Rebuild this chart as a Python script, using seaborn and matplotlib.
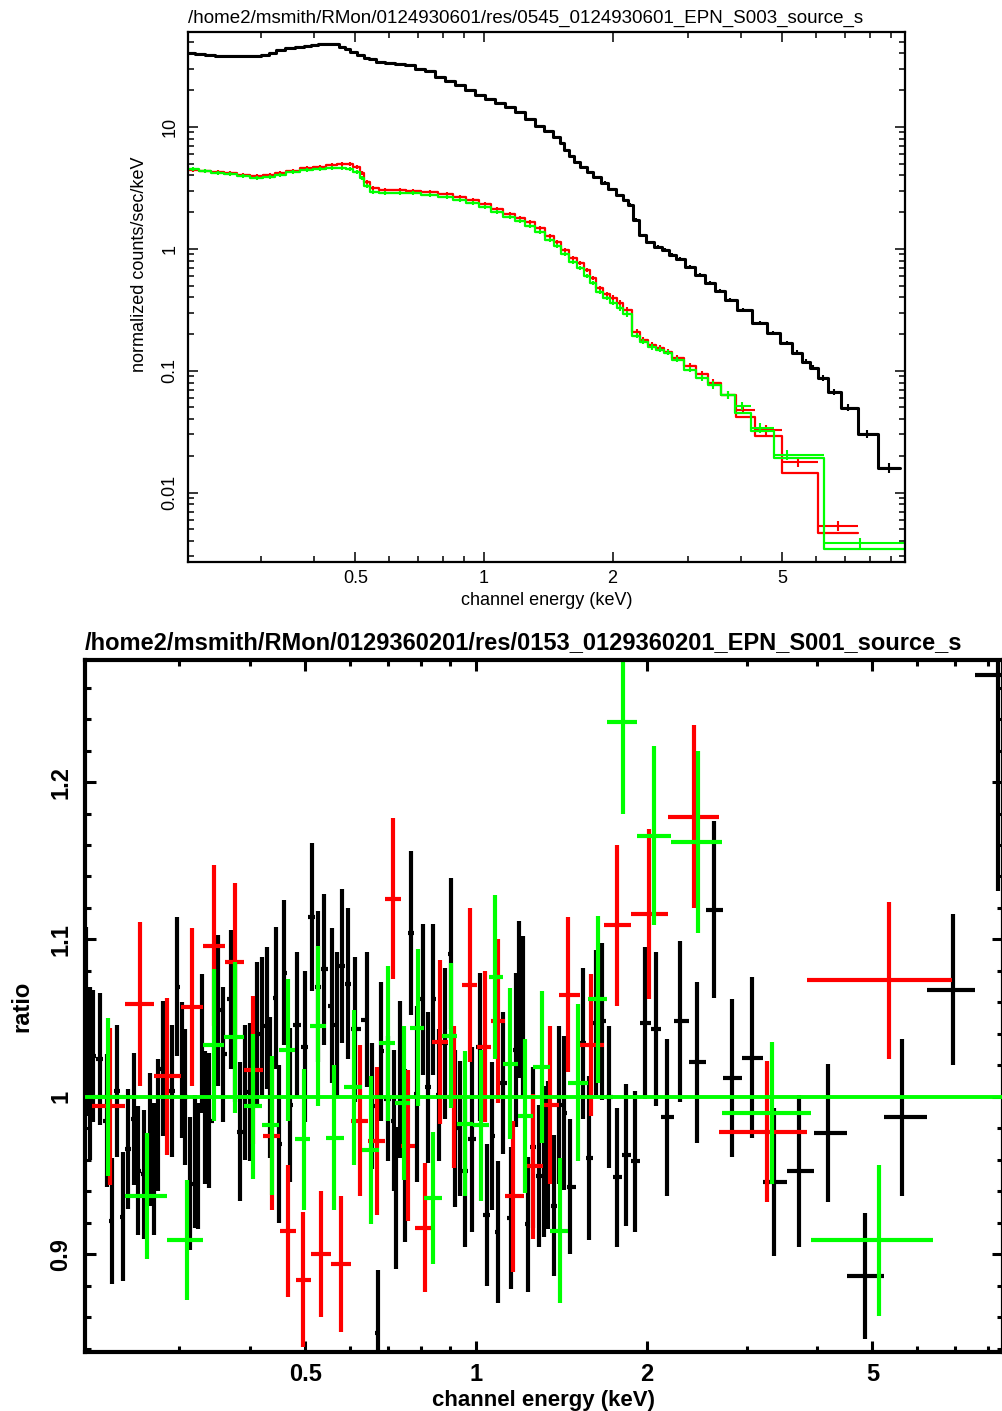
"""
XSPEC style plot: folded spectrum (top) and data/model ratio (bottom)
Outputs out.png
"""

import matplotlib
matplotlib.use('Agg')
import matplotlib.pyplot as plt
import matplotlib.ticker as mticker
import numpy as np
import seaborn as sns

TOP_TITLE = '/home2/msmith/RMon/0124930601/res/0545_0124930601_EPN_S003_source_s'
BOT_TITLE = '/home2/msmith/RMon/0129360201/res/0153_0129360201_EPN_S001_source_s'

# ---------------- top panel: normalized counts/sec/keV ----------------
blk_e = [0.2048, 0.2163, 0.2282, 0.2408, 0.2542, 0.2683, 0.2831, 0.2955, 0.3070, 0.3189,
         0.3328, 0.3513, 0.3708, 0.3871, 0.4019, 0.4174, 0.4358, 0.4500, 0.4674, 0.4803,
         0.4934, 0.5125, 0.5321, 0.5467, 0.5706, 0.6025, 0.6357, 0.6709, 0.7082, 0.7470,
         0.7889, 0.8325, 0.8786, 0.9273, 0.9786, 1.033, 1.090, 1.150, 1.214, 1.281,
         1.352, 1.412, 1.483, 1.523, 1.564, 1.607, 1.651, 1.706, 1.771, 1.839,
         1.920, 1.994, 2.082, 2.139, 2.198, 2.270, 2.344, 2.448, 2.556, 2.654,
         2.756, 2.877, 3.037, 3.205, 3.383, 3.570, 3.768, 4.043, 4.431, 4.752,
         5.125, 5.41, 5.68, 5.90, 6.22, 6.60, 7.12, 7.89, 8.88]
blk_v = [40.5, 39.6, 38.9, 38.2, 38.2, 38.2, 38.2, 38.2, 38.9, 40.5,
         42.8, 44.5, 45.3, 46.1, 47.0, 47.5, 47.9, 47.9, 45.3, 43.6,
         41.2, 38.9, 36.8, 36.1, 34.1, 33.5, 32.8, 32.2, 29.9, 28.8,
         25.7, 23.8, 22.1, 20.1, 18.3, 17.0, 15.7, 14.6, 13.3, 11.6,
         10.2, 9.27, 8.28, 7.40, 6.48, 5.78, 5.16, 4.70, 4.28, 3.89,
         3.48, 3.10, 2.77, 2.52, 2.30, 1.73, 1.30, 1.14, 1.04, 0.982,
         0.893, 0.828, 0.711, 0.612, 0.526, 0.453, 0.382, 0.316, 0.247, 0.205,
         0.170, 0.141, 0.119, 0.106, 0.0877, 0.0673, 0.0498, 0.0305, 0.0160]
blk_rel = [0.02, 0.02, 0.02, 0.02, 0.02, 0.02, 0.02, 0.02, 0.02, 0.02,
           0.02, 0.02, 0.02, 0.02, 0.02, 0.02, 0.02, 0.02, 0.02, 0.02,
           0.02, 0.02, 0.02, 0.02, 0.02, 0.02, 0.02, 0.02, 0.02, 0.02,
           0.02, 0.02, 0.02, 0.02, 0.02, 0.02, 0.02, 0.02, 0.02, 0.02,
           0.025, 0.025, 0.025, 0.025, 0.025, 0.025, 0.025, 0.025, 0.025, 0.025,
           0.025, 0.025, 0.025, 0.025, 0.025, 0.025, 0.025, 0.025, 0.025, 0.025,
           0.03, 0.03, 0.03, 0.03, 0.03, 0.03, 0.035, 0.035, 0.035, 0.04,
           0.04, 0.045, 0.05, 0.05, 0.06, 0.06, 0.07, 0.08, 0.09]
blk_hi = 9.42

red_e = [0.2083, 0.2221, 0.2382, 0.2542, 0.2727, 0.2940, 0.3153, 0.3328, 0.3570, 0.3850,
         0.4130, 0.4406, 0.4648, 0.4855, 0.5042, 0.5180, 0.5321, 0.5496, 0.5862, 0.6357,
         0.6820, 0.7470, 0.8191, 0.8786, 0.9424, 1.005, 1.073, 1.150, 1.214, 1.281,
         1.352, 1.428, 1.483, 1.548, 1.616, 1.679, 1.743, 1.800, 1.869, 1.941,
         2.005, 2.082, 2.162, 2.282, 2.357, 2.475, 2.584, 2.697, 2.831, 3.037,
         3.240, 3.439, 3.728, 4.043, 4.575, 5.437, 6.746]
red_v = [4.45, 4.36, 4.28, 4.20, 4.04, 3.96, 4.04, 4.20, 4.36, 4.61,
         4.70, 4.88, 4.98, 4.98, 4.70, 4.20, 3.54, 3.16, 3.05, 3.05,
         2.99, 2.93, 2.83, 2.67, 2.52, 2.34, 2.13, 1.94, 1.80, 1.66,
         1.49, 1.28, 1.14, 0.982, 0.843, 0.767, 0.673, 0.578, 0.479, 0.428,
         0.397, 0.361, 0.316, 0.209, 0.180, 0.163, 0.155, 0.143, 0.128, 0.110,
         0.0945, 0.0798, 0.0635, 0.0479, 0.0328, 0.0179, 0.00537]
red_model_tail = [0.0415, 0.0293, 0.0146, 0.0047]
red_hi = 7.51

grn_e = [0.2083, 0.2221, 0.2382, 0.2542, 0.2727, 0.2940, 0.3153, 0.3328, 0.3570, 0.3850,
         0.4130, 0.4406, 0.4648, 0.4855, 0.5042, 0.5180, 0.5321, 0.5496, 0.5862, 0.6357,
         0.6820, 0.7470, 0.8191, 0.8786, 0.9424, 1.005, 1.073, 1.150, 1.214, 1.281,
         1.352, 1.428, 1.483, 1.548, 1.616, 1.679, 1.743, 1.800, 1.869, 1.941,
         2.005, 2.082, 2.162, 2.282, 2.357, 2.475, 2.584, 2.697, 2.831, 3.037,
         3.240, 3.439, 3.728, 4.02, 4.43, 5.13, 7.60]
grn_v = [4.53, 4.36, 4.20, 4.12, 3.96, 3.82, 3.89, 4.04, 4.28, 4.45,
         4.53, 4.61, 4.61, 4.53, 4.28, 3.82, 3.28, 2.93, 2.88, 2.88,
         2.88, 2.77, 2.67, 2.52, 2.38, 2.21, 2.01, 1.83, 1.70, 1.54,
         1.38, 1.19, 1.06, 0.910, 0.782, 0.698, 0.601, 0.526, 0.445, 0.397,
         0.361, 0.328, 0.293, 0.194, 0.173, 0.157, 0.149, 0.141, 0.123, 0.102,
         0.0877, 0.0768, 0.0635, 0.0516, 0.0341, 0.0205, 0.00389]
grn_model_tail = [0.0450, 0.0318, 0.0191, 0.00347]
grn_hi = 10.5

# relative errors shared by the red and green spectra
rg_rel = [0.035, 0.035, 0.035, 0.035, 0.035, 0.035, 0.035, 0.035, 0.035, 0.035,
          0.035, 0.035, 0.035, 0.035, 0.035, 0.035, 0.035, 0.035, 0.035, 0.035,
          0.035, 0.035, 0.035, 0.035, 0.035, 0.035, 0.035, 0.035, 0.035, 0.035,
          0.04, 0.04, 0.04, 0.04, 0.04, 0.04, 0.04, 0.04, 0.04, 0.04,
          0.05, 0.05, 0.05, 0.05, 0.05, 0.05, 0.05, 0.05, 0.05, 0.05,
          0.06, 0.07, 0.08, 0.08, 0.09, 0.10, 0.10]

# ---------------- bottom panel: ratio ----------------
rblk_e = [0.2056, 0.2089, 0.2111, 0.2172, 0.2235, 0.2280, 0.2327, 0.2384, 0.2433, 0.2493,
          0.2534, 0.2597, 0.2661, 0.2705, 0.2749, 0.2805, 0.2910, 0.2970, 0.3031, 0.3069,
          0.3131, 0.3195, 0.3234, 0.3287, 0.3327, 0.3382, 0.3508, 0.3580, 0.3698, 0.3758,
          0.3836, 0.3915, 0.3995, 0.4111, 0.4195, 0.4281, 0.4334, 0.4441, 0.4495, 0.4587,
          0.4699, 0.4834, 0.4994, 0.5138, 0.5264, 0.5393, 0.5571, 0.5686, 0.5803, 0.5947,
          0.6116, 0.6422, 0.6554, 0.6717, 0.6800, 0.6994, 0.7160, 0.7240, 0.7345, 0.7495,
          0.7681, 0.7870, 0.8064, 0.8229, 0.8399, 0.8603, 0.8817, 0.9035, 0.9183, 0.9371,
          0.9563, 0.9838, 1.016, 1.046, 1.067, 1.093, 1.116, 1.153, 1.176, 1.191,
          1.210, 1.235, 1.260, 1.292, 1.318, 1.340, 1.373, 1.401, 1.430, 1.465,
          1.544, 1.583, 1.628, 1.668, 1.717, 1.773, 1.839, 1.908, 1.987, 2.077,
          2.172, 2.290, 2.454, 2.630, 2.829, 3.068, 3.355, 3.712, 4.178, 4.854,
          5.640, 6.936, 8.329]
rblk_v = [1.048, 1.015, 1.026, 1.024, 0.985, 0.921, 1.004, 0.924, 0.967, 0.986,
          0.953, 0.951, 0.973, 0.954, 0.982, 1.018, 1.004, 1.070, 1.017, 1.000,
          0.945, 0.959, 0.956, 1.034, 0.987, 0.985, 1.055, 1.027, 1.062, 1.041,
          0.978, 1.003, 1.003, 1.040, 1.045, 1.050, 1.006, 1.063, 0.970, 1.079,
          0.995, 1.046, 1.032, 1.114, 1.070, 1.081, 1.058, 1.046, 1.083, 1.072,
          1.043, 1.049, 0.994, 0.850, 1.029, 0.999, 0.985, 0.936, 1.011, 0.963,
          1.104, 1.002, 1.062, 1.006, 1.062, 1.001, 1.034, 1.091, 0.980, 0.980,
          0.953, 0.973, 1.032, 0.925, 0.975, 0.914, 1.009, 0.923, 1.030, 1.062,
          1.051, 0.919, 0.968, 0.950, 0.959, 0.963, 0.931, 0.995, 0.990, 0.943,
          1.034, 0.961, 1.047, 1.048, 1.000, 0.949, 0.963, 0.959, 1.047, 1.043,
          0.987, 1.048, 1.022, 1.119, 1.012, 1.025, 0.946, 0.953, 0.977, 0.886,
          0.987, 1.068, 1.268]
rblk_err = [0.060, 0.055, 0.042, 0.042, 0.042, 0.040, 0.042, 0.041, 0.038, 0.042,
            0.041, 0.041, 0.042, 0.042, 0.042, 0.043, 0.042, 0.044, 0.043, 0.043,
            0.042, 0.042, 0.040, 0.044, 0.042, 0.043, 0.048, 0.043, 0.044, 0.044,
            0.044, 0.043, 0.044, 0.046, 0.044, 0.045, 0.045, 0.045, 0.050, 0.046,
            0.049, 0.046, 0.048, 0.047, 0.048, 0.048, 0.049, 0.046, 0.049, 0.048,
            0.046, 0.043, 0.040, 0.040, 0.044, 0.040, 0.045, 0.045, 0.050, 0.055,
            0.052, 0.056, 0.048, 0.048, 0.048, 0.042, 0.048, 0.048, 0.050, 0.043,
            0.048, 0.059, 0.047, 0.045, 0.047, 0.045, 0.045, 0.045, 0.049, 0.050,
            0.051, 0.043, 0.051, 0.045, 0.048, 0.047, 0.045, 0.050, 0.049, 0.043,
            0.048, 0.052, 0.046, 0.050, 0.045, 0.044, 0.045, 0.045, 0.048, 0.049,
            0.050, 0.051, 0.051, 0.056, 0.050, 0.051, 0.047, 0.048, 0.044, 0.040,
            0.050, 0.048, 0.137]
rblk_lo, rblk_hi = 0.204, 9.5

rred_edges = [0.2103, 0.2404, 0.2705, 0.3018, 0.3300, 0.3609, 0.3899, 0.4211, 0.4512, 0.4814,
              0.5117, 0.5549, 0.6020, 0.6450, 0.6911, 0.7375, 0.7805, 0.8363, 0.8925, 0.9447,
              1.004, 1.063, 1.125, 1.215, 1.313, 1.401, 1.525, 1.682, 1.877, 2.182,
              2.683, 3.835, 6.911]
rred_e = [0.2262, 0.2555, 0.2851, 0.3155, 0.3450, 0.3758, 0.4044, 0.4367, 0.4661, 0.4954,
          0.5329, 0.5779, 0.6243, 0.6688, 0.7139, 0.7589, 0.8127, 0.8640, 0.9145, 0.9759,
          1.037, 1.093, 1.162, 1.260, 1.351, 1.453, 1.595, 1.773, 2.019, 2.424,
          3.262, 5.351]
rred_v = [0.994, 1.059, 1.013, 1.057, 1.096, 1.086, 1.017, 0.975, 0.915, 0.884,
          0.900, 0.894, 0.985, 0.972, 1.126, 0.969, 0.917, 1.035, 1.000, 1.071,
          1.032, 1.048, 0.937, 0.956, 0.995, 1.065, 1.033, 1.109, 1.116, 1.178,
          0.978, 1.074]
rred_err = [0.050, 0.052, 0.050, 0.050, 0.051, 0.050, 0.047, 0.047, 0.042, 0.043,
            0.040, 0.043, 0.048, 0.047, 0.051, 0.048, 0.041, 0.052, 0.045, 0.049,
            0.048, 0.052, 0.048, 0.046, 0.050, 0.049, 0.045, 0.051, 0.054, 0.058,
            0.045, 0.050]

rgrn_edges = [0.2111, 0.2404, 0.2851, 0.3300, 0.3594, 0.3899, 0.4195, 0.4493, 0.4795, 0.5096,
              0.5438, 0.5850, 0.6293, 0.6744, 0.7197, 0.7649, 0.8098, 0.8710, 0.9258, 0.9879,
              1.054, 1.116, 1.186, 1.260, 1.351, 1.453, 1.576, 1.702, 1.923, 2.208,
              2.716, 3.897, 6.397]
rgrn_e = [0.2244, 0.2629, 0.3092, 0.3450, 0.3758, 0.4044, 0.4367, 0.4661, 0.4974, 0.5264,
          0.5619, 0.6094, 0.6530, 0.6994, 0.7464, 0.7900, 0.8399, 0.9035, 0.9563, 1.021,
          1.080, 1.148, 1.220, 1.307, 1.406, 1.513, 1.641, 1.816, 2.060, 2.463,
          3.327, 5.138]
rgrn_v = [1.000, 0.937, 0.909, 1.033, 1.038, 0.994, 0.982, 1.030, 0.973, 1.045,
          0.974, 1.006, 0.966, 1.034, 0.996, 1.044, 0.936, 1.039, 0.983, 0.982,
          1.076, 1.021, 0.988, 1.019, 0.915, 1.009, 1.062, 1.238, 1.166, 1.162,
          0.990, 0.909]
rgrn_err = [0.050, 0.040, 0.038, 0.048, 0.048, 0.046, 0.044, 0.045, 0.045, 0.051,
            0.046, 0.049, 0.047, 0.049, 0.049, 0.050, 0.042, 0.046, 0.046, 0.048,
            0.052, 0.048, 0.049, 0.048, 0.046, 0.050, 0.053, 0.058, 0.057, 0.058,
            0.045, 0.048]
ratio_model = 1.0

BLACK, RED, GREEN = '#000000', '#ff0000', '#00ff00'


def edges_from_centres(centres, lo, hi):
    c = np.asarray(centres, dtype=float)
    return np.concatenate([[lo], np.sqrt(c[:-1] * c[1:]), [hi]])


def draw_spectrum(ax, e, v, rel, hi, colour, lw, model_tail=None):
    e = np.asarray(e, dtype=float)
    v = np.asarray(v, dtype=float)
    edges = edges_from_centres(e, 0.2, hi)
    ax.errorbar(e, v, xerr=[e - edges[:-1], edges[1:] - e],
                yerr=v * np.asarray(rel), fmt='none', ecolor=colour,
                elinewidth=1.5)
    model = v.copy()
    if model_tail is not None:
        model[-len(model_tail):] = model_tail
    sns.lineplot(x=edges, y=np.append(model, model[-1]), drawstyle='steps-post',
                 color=colour, lw=lw, estimator=None, sort=False, ax=ax)


def draw_ratio(ax, e, v, err, edges, colour):
    e = np.asarray(e, dtype=float)
    edges = np.asarray(edges, dtype=float)
    ax.errorbar(e, v, xerr=[e - edges[:-1], edges[1:] - e], yerr=err,
                fmt='none', ecolor=colour, elinewidth=3.0)


def style_axes(ax, spine_w, tick_w, major_len, minor_len):
    for s in ax.spines.values():
        s.set_linewidth(spine_w)
        s.set_color('black')
    ax.tick_params(which='both', direction='in', top=True, right=True,
                   labeltop=False, labelright=False, width=tick_w, colors='black')
    ax.tick_params(which='major', length=major_len)
    ax.tick_params(which='minor', length=minor_len)


def main():
    sns.set_style('ticks', {'axes.edgecolor': 'black', 'text.color': 'black',
                            'axes.labelcolor': 'black'})
    plt.rcParams['font.family'] = ['Liberation Sans', 'DejaVu Sans']

    fig = plt.figure(figsize=(10.03, 14.11), dpi=100)
    ax1 = fig.add_axes([188 / 1003, 1 - 562 / 1411, 717 / 1003, 530 / 1411])
    ax2 = fig.add_axes([85 / 1003, 1 - 1352 / 1411, 918 / 1003, 692 / 1411])

    # ---- top panel
    ax1.set_xscale('log')
    ax1.set_yscale('log')
    draw_spectrum(ax1, blk_e, blk_v, blk_rel, blk_hi, BLACK, 2.2)
    draw_spectrum(ax1, red_e, red_v, rg_rel, red_hi, RED, 1.6, red_model_tail)
    draw_spectrum(ax1, grn_e, grn_v, rg_rel, grn_hi, GREEN, 1.6, grn_model_tail)
    ax1.set_xlim(0.2027, 9.68)
    ax1.set_ylim(0.0027, 60)

    ax1.set_xticks([0.5, 1, 2, 5], ['0.5', '1', '2', '5'], fontsize=13)
    ax1.set_xticks([0.3, 0.4, 0.6, 0.7, 0.8, 0.9, 3, 4, 6, 7, 8, 9], minor=True)
    ax1.xaxis.set_minor_formatter(mticker.NullFormatter())
    ax1.set_yticks([0.01, 0.1, 1, 10], ['0.01', '0.1', '1', '10'], fontsize=13,
                   rotation=90, va='center')
    ax1.yaxis.set_minor_locator(mticker.LogLocator(subs=np.arange(2, 10)))
    ax1.yaxis.set_minor_formatter(mticker.NullFormatter())
    style_axes(ax1, 1.6, 1.1, 7, 4)
    ax1.tick_params(axis='x', pad=6)
    ax1.tick_params(axis='y', pad=7)

    ax1.set_xlabel('channel energy (keV)', fontsize=13, va='center')
    ax1.xaxis.set_label_coords(0.5, -0.0717)
    ax1.set_ylabel('normalized counts/sec/keV', fontsize=13, va='center')
    ax1.yaxis.set_label_coords(-0.067, 0.5625)
    ax1.text(0.0, 1.026, TOP_TITLE, transform=ax1.transAxes, ha='left',
             va='center', fontsize=13.5)

    # ---- bottom panel
    ax2.set_xscale('log')
    draw_ratio(ax2, rblk_e, rblk_v, rblk_err,
               edges_from_centres(rblk_e, rblk_lo, rblk_hi), BLACK)
    draw_ratio(ax2, rred_e, rred_v, rred_err, rred_edges, RED)
    draw_ratio(ax2, rgrn_e, rgrn_v, rgrn_err, rgrn_edges, GREEN)
    ax2.axhline(ratio_model, color=GREEN, lw=2.8, zorder=4)
    ax2.set_xlim(0.2044, 8.50)
    ax2.set_ylim(0.838, 1.2775)

    ax2.set_xticks([0.5, 1, 2, 5], ['0.5', '1', '2', '5'], fontsize=17,
                   fontweight='bold')
    ax2.set_xticks([0.3, 0.4, 0.6, 0.7, 0.8, 0.9, 3, 4, 6, 7, 8], minor=True)
    ax2.xaxis.set_minor_formatter(mticker.NullFormatter())
    ax2.set_yticks([0.9, 1.0, 1.1, 1.2], ['0.9', '1', '1.1', '1.2'], fontsize=17,
                   fontweight='bold', rotation=90, va='center')
    ax2.yaxis.set_minor_locator(mticker.MultipleLocator(0.02))
    style_axes(ax2, 3.0, 2.2, 8, 4.5)
    ax2.tick_params(axis='x', pad=8)
    ax2.tick_params(axis='y', pad=9)

    ax2.set_xlabel('channel energy (keV)', fontsize=16, fontweight='bold',
                   va='center')
    ax2.xaxis.set_label_coords(0.5, -0.0694)
    ax2.set_ylabel('ratio', fontsize=17, fontweight='bold', va='center')
    ax2.yaxis.set_label_coords(-0.0686, 0.5)
    ax2.text(0.0, 1.0246, BOT_TITLE, transform=ax2.transAxes, ha='left',
             va='center', fontsize=17, fontweight='bold')

    fig.savefig('out.png', dpi=100)


if __name__ == '__main__':
    main()
